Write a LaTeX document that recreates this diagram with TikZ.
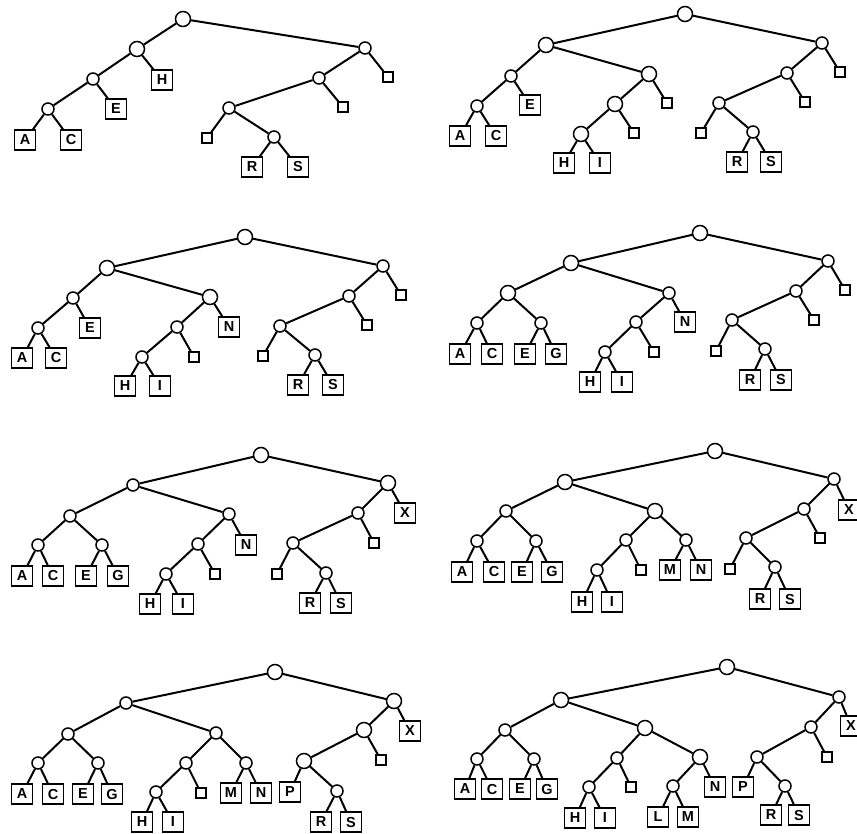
\documentclass[tikz,border=0pt]{standalone}
\usepackage{fontspec}
\setmainfont{Liberation Sans}
\begin{document}
\begin{tikzpicture}[x=1pt,y=-1pt,
  cs/.style={circle,draw,line width=1.5pt,fill=white,minimum size=12pt,inner sep=0pt},
  cb/.style={cs,minimum size=15pt},
  leaf/.style={draw,line width=1.6pt,fill=white,minimum width=21pt,minimum height=20pt,inner sep=0pt,font=\fontsize{14.5}{14.5}\selectfont\bfseries},
  nul/.style={draw,line width=1.4pt,fill=white,minimum size=10pt,inner sep=0pt},
  edge/.style={line width=2pt}]
\useasboundingbox (0,0) rectangle (857,833);
% ---------- Tree 1 ----------
\node[cb] (a0) at (183,19) {};
\node[cb] (a1) at (137,49) {};
\node[cs] (a2) at (93,79) {};
\node[cs] (a3) at (48,109) {};
\node[leaf] (aA) at (25,140) {A};
\node[leaf] (aC) at (71,140) {C};
\node[leaf] (aE) at (116,109) {E};
\node[leaf] (aH) at (162,80) {H};
\node[cs] (a4) at (365,48) {};
\node[nul] (an1) at (388,77) {};
\node[cs] (a5) at (319,78) {};
\node[nul] (an2) at (343,107) {};
\node[cs] (a6) at (229,108) {};
\node[nul] (an3) at (207,138) {};
\node[cs] (a7) at (274,137) {};
\node[leaf] (aR) at (252,167) {R};
\node[leaf] (aS) at (298,167) {S};
\draw[edge] (a0)--(a1) (a1)--(a2) (a2)--(a3) (a3)--(aA) (a3)--(aC) (a2)--(aE) (a1)--(aH)
  (a0)--(a4) (a4)--(an1) (a4)--(a5) (a5)--(an2) (a5)--(a6) (a6)--(an3) (a6)--(a7) (a7)--(aR) (a7)--(aS);
% ---------- Tree 2 ----------
\node[cb] (b0) at (685,14) {};
\node[cb] (b1) at (546,45) {};
\node[cs] (b2) at (511,76) {};
\node[cs] (b3) at (477,106) {};
\node[leaf] (bA) at (460,136) {A};
\node[leaf] (bC) at (496,136) {C};
\node[leaf] (bE) at (530,105) {E};
\node[cb] (b4) at (649,74) {};
\node[cb] (b5) at (615,104) {};
\node[nul] (bn1) at (667,103) {};
\node[cb] (b6) at (581,134) {};
\node[nul] (bn2) at (634,133) {};
\node[leaf] (bH) at (564,163) {H};
\node[leaf] (bI) at (600,163) {I};
\node[cs] (b7) at (822,43) {};
\node[nul] (bn3) at (840,72) {};
\node[cs] (b8) at (787,73) {};
\node[nul] (bn4) at (805,102) {};
\node[cs] (b9) at (719,103) {};
\node[nul] (bn5) at (701,133) {};
\node[cs] (b10) at (753,132) {};
\node[leaf] (bR) at (737,162) {R};
\node[leaf] (bS) at (771,162) {S};
\draw[edge] (b0)--(b1) (b1)--(b2) (b2)--(b3) (b3)--(bA) (b3)--(bC) (b2)--(bE) (b1)--(b4)
  (b4)--(b5) (b4)--(bn1) (b5)--(b6) (b5)--(bn2) (b6)--(bH) (b6)--(bI)
  (b0)--(b7) (b7)--(bn3) (b7)--(b8) (b8)--(bn4) (b8)--(b9) (b9)--(bn5) (b9)--(b10) (b10)--(bR) (b10)--(bS);
% ---------- Tree 3 ----------
\node[cb] (c0) at (245,237) {};
\node[cb] (c1) at (107,268) {};
\node[cs] (c2) at (73,298) {};
\node[cs] (c3) at (38,328) {};
\node[leaf] (cA) at (22,358) {A};
\node[leaf] (cC) at (56,358) {C};
\node[leaf] (cE) at (90,328) {E};
\node[cb] (c4) at (210,297) {};
\node[cs] (c5) at (177,327) {};
\node[leaf] (cN) at (229,327) {N};
\node[cs] (c6) at (142,357) {};
\node[nul] (cn1) at (194,357) {};
\node[leaf] (cH) at (125,386) {H};
\node[leaf] (cI) at (160,386) {I};
\node[cs] (c7) at (383,266) {};
\node[nul] (cn2) at (401,295) {};
\node[cs] (c8) at (349,296) {};
\node[nul] (cn3) at (367,325) {};
\node[cs] (c9) at (280,326) {};
\node[nul] (cn4) at (263,356) {};
\node[cs] (c10) at (315,355) {};
\node[leaf] (cR) at (298,385) {R};
\node[leaf] (cS) at (333,385) {S};
\draw[edge] (c0)--(c1) (c1)--(c2) (c2)--(c3) (c3)--(cA) (c3)--(cC) (c2)--(cE) (c1)--(c4)
  (c4)--(c5) (c4)--(cN) (c5)--(c6) (c5)--(cn1) (c6)--(cH) (c6)--(cI)
  (c0)--(c7) (c7)--(cn2) (c7)--(c8) (c8)--(cn3) (c8)--(c9) (c9)--(cn4) (c9)--(c10) (c10)--(cR) (c10)--(cS);
% ---------- Tree 4 ----------
\node[cb] (d0) at (700,233) {};
\node[cb] (d1) at (571,263) {};
\node[cb] (d2) at (508,293) {};
\node[cs] (d3) at (477,323) {};
\node[cs] (d4) at (541,323) {};
\node[leaf] (dA) at (460,354) {A};
\node[leaf] (dC) at (492,354) {C};
\node[leaf] (dE) at (525,354) {E};
\node[leaf] (dG) at (556,354) {G};
\node[cs] (d5) at (669,293) {};
\node[leaf] (dN) at (685,322) {N};
\node[cs] (d6) at (636,322) {};
\node[nul] (dn1) at (654,352) {};
\node[cs] (d7) at (605,352) {};
\node[leaf] (dH) at (590,382) {H};
\node[leaf] (dI) at (622,382) {I};
\node[cs] (d8) at (828,261) {};
\node[nul] (dn2) at (845,290) {};
\node[cs] (d9) at (796,291) {};
\node[nul] (dn3) at (814,320) {};
\node[cs] (d10) at (732,320) {};
\node[nul] (dn4) at (716,351) {};
\node[cs] (d11) at (765,349) {};
\node[leaf] (dR) at (750,380) {R};
\node[leaf] (dS) at (781,380) {S};
\draw[edge] (d0)--(d1) (d1)--(d2) (d2)--(d3) (d2)--(d4) (d3)--(dA) (d3)--(dC) (d4)--(dE) (d4)--(dG)
  (d1)--(d5) (d5)--(d6) (d5)--(dN) (d6)--(d7) (d6)--(dn1) (d7)--(dH) (d7)--(dI)
  (d0)--(d8) (d8)--(dn2) (d8)--(d9) (d9)--(dn3) (d9)--(d10) (d10)--(dn4) (d10)--(d11) (d11)--(dR) (d11)--(dS);
% ---------- Tree 5 ----------
\node[cb] (e0) at (261,455) {};
\node[cs] (e1) at (133,485) {};
\node[cs] (e2) at (70,516) {};
\node[cs] (e3) at (38,545) {};
\node[cs] (e4) at (102,545) {};
\node[leaf] (eA) at (22,576) {A};
\node[leaf] (eC) at (53,576) {C};
\node[leaf] (eE) at (86,576) {E};
\node[leaf] (eG) at (118,576) {G};
\node[cs] (e5) at (229,514) {};
\node[leaf] (eN) at (246,545) {N};
\node[cs] (e6) at (198,544) {};
\node[nul] (en1) at (215,574) {};
\node[cs] (e7) at (166,574) {};
\node[leaf] (eH) at (150,604) {H};
\node[leaf] (eI) at (183,604) {I};
\node[cb] (e8) at (388,483) {};
\node[leaf] (eX) at (405,513) {X};
\node[cs] (e9) at (358,513) {};
\node[nul] (en2) at (374,543) {};
\node[cs] (e10) at (293,543) {};
\node[nul] (en3) at (277,574) {};
\node[cs] (e11) at (326,573) {};
\node[leaf] (eR) at (310,603) {R};
\node[leaf] (eS) at (341,603) {S};
\draw[edge] (e0)--(e1) (e1)--(e2) (e2)--(e3) (e2)--(e4) (e3)--(eA) (e3)--(eC) (e4)--(eE) (e4)--(eG)
  (e1)--(e5) (e5)--(e6) (e5)--(eN) (e6)--(e7) (e6)--(en1) (e7)--(eH) (e7)--(eI)
  (e0)--(e8) (e8)--(eX) (e8)--(e9) (e9)--(en2) (e9)--(e10) (e10)--(en3) (e10)--(e11) (e11)--(eR) (e11)--(eS);
% ---------- Tree 6 ----------
\node[cb] (f0) at (715,451) {};
\node[cb] (f1) at (565,482) {};
\node[cs] (f2) at (506,511) {};
\node[cs] (f3) at (477,541) {};
\node[cs] (f4) at (536,541) {};
\node[leaf] (fA) at (462,572) {A};
\node[leaf] (fC) at (494,572) {C};
\node[leaf] (fE) at (522,572) {E};
\node[leaf] (fG) at (552,572) {G};
\node[cb] (f5) at (655,511) {};
\node[cs] (f6) at (626,540) {};
\node[cs] (f7) at (597,570) {};
\node[nul] (fn1) at (641,570) {};
\node[leaf] (fH) at (582,602) {H};
\node[leaf] (fI) at (612,602) {I};
\node[cs] (f8) at (686,540) {};
\node[leaf] (fM) at (670,570) {M};
\node[leaf] (fN) at (701,570) {N};
\node[cs] (f9) at (834,479) {};
\node[leaf] (fX) at (849,510) {X};
\node[cs] (f10) at (804,509) {};
\node[nul] (fn2) at (820,538) {};
\node[cs] (f11) at (746,538) {};
\node[nul] (fn3) at (730,569) {};
\node[cs] (f12) at (775,567) {};
\node[leaf] (fR) at (760,599) {R};
\node[leaf] (fS) at (790,599) {S};
\draw[edge] (f0)--(f1) (f1)--(f2) (f2)--(f3) (f2)--(f4) (f3)--(fA) (f3)--(fC) (f4)--(fE) (f4)--(fG)
  (f1)--(f5) (f5)--(f6) (f5)--(f8) (f6)--(f7) (f6)--(fn1) (f7)--(fH) (f7)--(fI) (f8)--(fM) (f8)--(fN)
  (f0)--(f9) (f9)--(fX) (f9)--(f10) (f10)--(fn2) (f10)--(f11) (f11)--(fn3) (f11)--(f12) (f12)--(fR) (f12)--(fS);
% ---------- Tree 7 ----------
\node[cb] (g0) at (275,672) {};
\node[cs] (g1) at (126,703) {};
\node[cs] (g2) at (68,734) {};
\node[cs] (g3) at (38,763) {};
\node[cs] (g4) at (98,763) {};
\node[leaf] (gA) at (22,794) {A};
\node[leaf] (gC) at (53,794) {C};
\node[leaf] (gE) at (83,794) {E};
\node[leaf] (gG) at (112,794) {G};
\node[cs] (g5) at (216,733) {};
\node[cs] (g6) at (186,763) {};
\node[cs] (g7) at (156,792) {};
\node[nul] (gn1) at (201,793) {};
\node[leaf] (gH) at (142,822) {H};
\node[leaf] (gI) at (173,822) {I};
\node[cs] (g8) at (246,763) {};
\node[leaf] (gM) at (231,793) {M};
\node[leaf] (gN) at (261,793) {N};
\node[cb] (g9) at (394,701) {};
\node[leaf] (gX) at (410,731) {X};
\node[cb] (g10) at (364,730) {};
\node[nul] (gn2) at (381,760) {};
\node[cb] (g11) at (304,761) {};
\node[leaf] (gP) at (290,792) {P};
\node[cs] (g12) at (337,791) {};
\node[leaf] (gR) at (321,822) {R};
\node[leaf] (gS) at (351,822) {S};
\draw[edge] (g0)--(g1) (g1)--(g2) (g2)--(g3) (g2)--(g4) (g3)--(gA) (g3)--(gC) (g4)--(gE) (g4)--(gG)
  (g1)--(g5) (g5)--(g6) (g5)--(g8) (g6)--(g7) (g6)--(gn1) (g7)--(gH) (g7)--(gI) (g8)--(gM) (g8)--(gN)
  (g0)--(g9) (g9)--(gX) (g9)--(g10) (g10)--(gn2) (g10)--(g11) (g11)--(gP) (g11)--(g12) (g12)--(gR) (g12)--(gS);
% ---------- Tree 8 ----------
\node[cb] (h0) at (727,667) {};
\node[cb] (h1) at (561,700) {};
\node[cs] (h2) at (505,730) {};
\node[cs] (h3) at (477,759) {};
\node[cs] (h4) at (534,759) {};
\node[leaf] (hA) at (465,789) {A};
\node[leaf] (hC) at (492,789) {C};
\node[leaf] (hE) at (520,789) {E};
\node[leaf] (hG) at (547,789) {G};
\node[cb] (h5) at (645,728) {};
\node[cs] (h6) at (617,758) {};
\node[cs] (h7) at (589,787) {};
\node[nul] (hn1) at (631,787) {};
\node[leaf] (hH) at (575,818) {H};
\node[leaf] (hI) at (605,818) {I};
\node[cb] (h8) at (700,757) {};
\node[cs] (h9) at (673,786) {};
\node[leaf] (hN) at (715,787) {N};
\node[leaf] (hL) at (658,817) {L};
\node[leaf] (hM) at (688,817) {M};
\node[cs] (h10) at (839,697) {};
\node[leaf] (hX) at (851,726) {X};
\node[cs] (h11) at (811,727) {};
\node[nul] (hn2) at (827,757) {};
\node[cs] (h12) at (757,757) {};
\node[leaf] (hP) at (743,787) {P};
\node[cs] (h13) at (785,786) {};
\node[leaf] (hR) at (771,815) {R};
\node[leaf] (hS) at (799,815) {S};
\draw[edge] (h0)--(h1) (h1)--(h2) (h2)--(h3) (h2)--(h4) (h3)--(hA) (h3)--(hC) (h4)--(hE) (h4)--(hG)
  (h1)--(h5) (h5)--(h6) (h5)--(h8) (h6)--(h7) (h6)--(hn1) (h7)--(hH) (h7)--(hI)
  (h8)--(h9) (h8)--(hN) (h9)--(hL) (h9)--(hM)
  (h0)--(h10) (h10)--(hX) (h10)--(h11) (h11)--(hn2) (h11)--(h12) (h12)--(hP) (h12)--(h13) (h13)--(hR) (h13)--(hS);
\end{tikzpicture}
\end{document}
